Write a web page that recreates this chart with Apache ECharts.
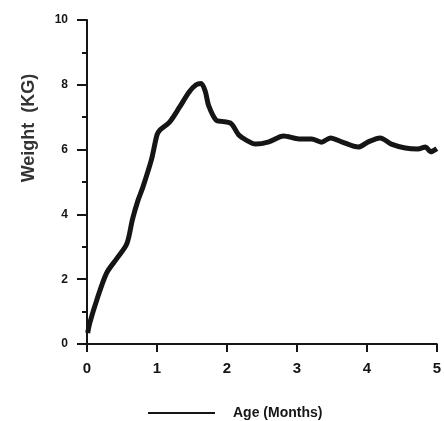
<!DOCTYPE html>
<html>
<head>
<meta charset="utf-8">
<script src="https://cdn.jsdelivr.net/npm/echarts@6/dist/echarts.min.js"></script>
<style>
  html, body { margin: 0; padding: 0; background: #fff; }
  #chart { width: 444px; height: 421px; }
</style>
</head>
<body>
<div id="chart"></div>
<script>
// Age in months
const ageMonths = [
  0.01, 0.04, 0.14, 0.28, 0.43, 0.57, 0.65, 0.73, 0.8, 0.92, 1.0, 1.04,
  1.18, 1.32, 1.46, 1.56, 1.63, 1.69, 1.74, 1.85, 1.93, 2.06, 2.17, 2.27,
  2.41, 2.6, 2.81, 3.03, 3.21, 3.35, 3.48, 3.64, 3.88, 4.02, 4.19, 4.35,
  4.55, 4.73, 4.84, 4.91, 5.0
]
// Weight in KG
const weightKg = [
  0.34, 0.65, 1.36, 2.19, 2.65, 3.1, 3.85, 4.44, 4.85, 5.68, 6.45, 6.6,
  6.85, 7.3, 7.78, 8.0, 8.04, 7.8, 7.35, 6.9, 6.87, 6.8, 6.45, 6.3,
  6.17, 6.24, 6.42, 6.33, 6.33, 6.23, 6.36, 6.24, 6.08, 6.24, 6.36, 6.17,
  6.05, 6.02, 6.08, 5.93, 6.03
]
const xTicks = [0, 1, 2, 3, 4, 5]
const yTicks = [0, 2, 4, 6, 8, 10]

const chart = echarts.init(document.getElementById('chart'))
const ink = '#151515'
const font = 'Liberation Sans, Arial, sans-serif'

const option = {
  animation: false,
  backgroundColor: '#fff',
  grid: {
    left: 87,
    right: 5,
    top: 20,
    bottom: 77,
  },
  legend: {
    left: 143,
    top: 401,
    icon: 'rect',
    itemWidth: 67,
    itemHeight: 2,
    data: ['Age (Months)'],
    textStyle: {
      color: ink,
      fontFamily: font,
      fontWeight: 'bold',
      fontSize: 14,
      padding: [0, 0, 0, 13],
    },
  },
  xAxis: {
    type: 'value',
    min: xTicks[0],
    max: xTicks[xTicks.length - 1],
    interval: 1,
    axisLine: { lineStyle: { color: ink, width: 2 } },
    axisTick: { inside: false, length: 8, lineStyle: { color: ink, width: 2 } },
    splitLine: { show: false },
    axisLabel: {
      margin: 17,
      color: ink,
      fontFamily: font,
      fontWeight: 'bold',
      fontSize: 15,
    },
  },
  yAxis: {
    type: 'value',
    min: yTicks[0],
    max: yTicks[yTicks.length - 1],
    interval: 2,
    name: 'Weight  (KG)',
    nameLocation: 'middle',
    nameGap: 49,
    nameTextStyle: {
      color: '#333',
      fontFamily: font,
      fontWeight: 'bold',
      fontSize: 18,
      padding: [0, 0, 0, 108],
    },
    axisLine: { show: true, lineStyle: { color: ink, width: 2 } },
    axisTick: { show: true, inside: false, length: 10, lineStyle: { color: ink, width: 2 } },
    minorTick: { show: true, splitNumber: 2, length: 5, lineStyle: { color: ink, width: 2 } },
    splitLine: { show: false },
    minorSplitLine: { show: false },
    axisLabel: {
      margin: 19,
      color: ink,
      fontFamily: font,
      fontWeight: 'bold',
      fontSize: 12,
    },
  },
  series: [
    {
      name: 'Age (Months)',
      type: 'line',
      data: ageMonths.map((a, i) => [a, weightKg[i]]),
      smooth: 0.3,
      showSymbol: false,
      color: ink,
      lineStyle: { color: ink, width: 5 },
    },
  ],
}
chart.setOption(option)
</script>
</body>
</html>
